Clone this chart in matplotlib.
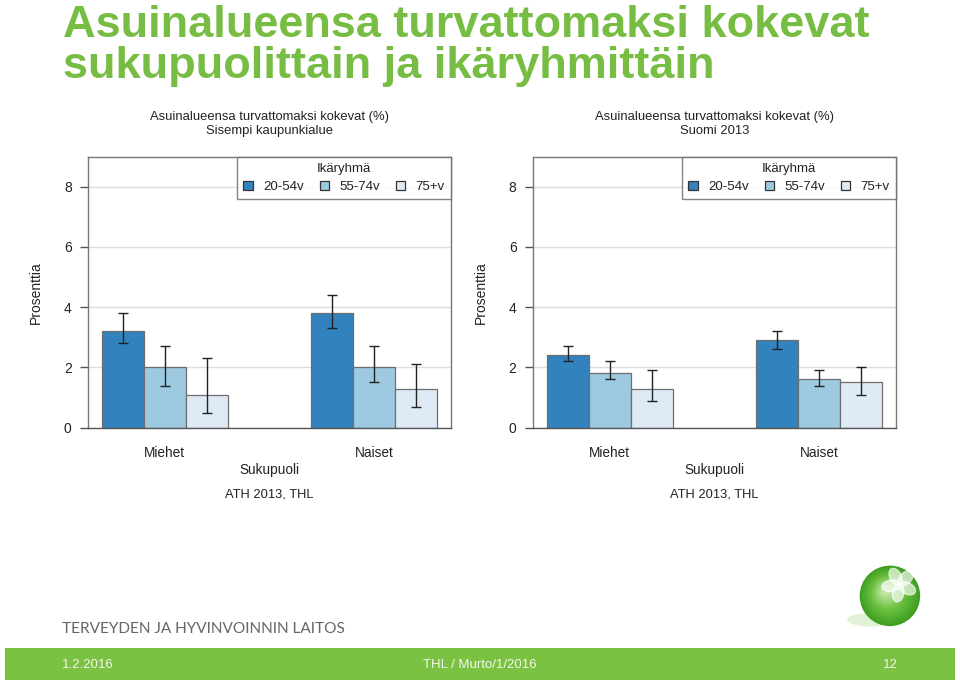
import numpy as np
import matplotlib.pyplot as plt
from matplotlib.patches import Rectangle, Ellipse, Circle
from matplotlib.colors import LinearSegmentedColormap

plt.rcParams['font.family'] = ['Liberation Sans', 'DejaVu Sans']

# data
genders = ['Miehet', 'Naiset']
age_groups = ['20-54v', '55-74v', '75+v']
colors = ['#3182bd', '#9ecae1', '#deebf7']

# Sisempi kaupunkialue
inner_val = [[3.2, 3.8], [2.0, 2.0], [1.1, 1.3]]
inner_lo = [[2.8, 3.3], [1.4, 1.5], [0.5, 0.7]]
inner_hi = [[3.8, 4.4], [2.7, 2.7], [2.3, 2.1]]

# Suomi 2013
fin_val = [[2.4, 2.9], [1.8, 1.6], [1.3, 1.5]]
fin_lo = [[2.2, 2.6], [1.6, 1.4], [0.9, 1.1]]
fin_hi = [[2.7, 3.2], [2.2, 1.9], [1.9, 2.0]]

panels = [
    ('Sisempi kaupunkialue', inner_val, inner_lo, inner_hi, 0.092),
    ('Suomi 2013', fin_val, fin_lo, fin_hi, 0.5555),
]

fig = plt.figure(figsize=(9.6, 6.81), dpi=100)

green = '#78bd43'
fig.text(0.066, 0.993, 'Asuinalueensa turvattomaksi kokevat\nsukupuolittain ja ikäryhmittäin',
         ha='left', va='top', fontsize=32.5, fontweight='bold', color=green,
         linespacing=1.0)

edge_gray = '#6e6e6e'
for subtitle, vals, lo, hi, x0 in panels:
    ax = fig.add_axes([x0, 0.372, 0.3775, 0.398])
    x = np.arange(1, len(genders) + 1)
    w = 0.2
    handles = []
    for i, grp in enumerate(age_groups):
        v = np.array(vals[i])
        err = np.array([v - np.array(lo[i]), np.array(hi[i]) - v])
        b = ax.bar(x + (i - 1) * w, v, w, color=colors[i], edgecolor=edge_gray,
                   linewidth=0.9, zorder=2, label=grp)
        ax.errorbar(x + (i - 1) * w, v, yerr=err, fmt='none', ecolor='#222222',
                    elinewidth=1.0, capsize=3.5, capthick=1.0, zorder=3)
        handles.append(b)
    ax.set_xlim(0.636, 2.364)
    ax.set_ylim(0, 9)
    ax.set_yticks([0, 2, 4, 6, 8])
    ax.yaxis.grid(True, color='#dddddd', linewidth=1.0, zorder=0)
    ax.set_axisbelow(True)
    ax.set_xticks([])
    ax.tick_params(axis='y', length=6, width=1, color='#555555',
                   labelsize=10, labelcolor='#222222', pad=6)
    for s in ax.spines.values():
        s.set_color('#777777')
        s.set_linewidth(1.0)
    ax.spines['bottom'].set_color('#555555')
    ax.set_ylabel('Prosenttia', fontsize=10, color='#222222', labelpad=15)
    for xi, g in zip(x, genders):
        ax.text(xi, -0.6, g, ha='center', va='top', fontsize=9.8, color='#222222')
    ax.text(0.5, -0.13, 'Sukupuoli', transform=ax.transAxes, ha='center',
            va='top', fontsize=9.8, color='#222222')
    ax.text(0.5, -0.225, 'ATH 2013, THL', transform=ax.transAxes, ha='center',
            va='top', fontsize=9.3, color='#222222')
    ax.text(0.5, 1.12, 'Asuinalueensa turvattomaksi kokevat (%)\n' + subtitle,
            transform=ax.transAxes, ha='center', va='center', fontsize=9.4,
            color='#222222', linespacing=1.2)
    leg = ax.legend(handles=handles, title='Ikäryhmä', ncol=3, loc='upper right',
                    bbox_to_anchor=(1.0, 1.0), frameon=True, fancybox=False,
                    fontsize=9.5, title_fontsize=9.5, handlelength=0.7, handleheight=0.7,
                    handletextpad=0.8, columnspacing=1.2, borderpad=0.45,
                    borderaxespad=0)
    leg.get_frame().set_edgecolor('#666666')
    leg.get_frame().set_linewidth(1.0)
    for p in leg.get_patches():
        p.set_edgecolor('#333333')
    for t in leg.get_texts():
        t.set_color('#222222')
    leg.get_title().set_color('#222222')

# footer
fig.text(0.065, 0.077, 'TERVEYDEN JA HYVINVOINNIN LAITOS', ha='left', va='center',
         fontsize=11.1, color='#666666', family=['Lato', 'DejaVu Sans'])
fig.patches.append(Rectangle((0.005, 0.0015), 0.990, 0.047, transform=fig.transFigure,
                             facecolor='#7bc142', edgecolor='none', zorder=0))
fig.text(0.065, 0.024, '1.2.2016', ha='left', va='center', fontsize=9.5, color='#f2f8ec')
fig.text(0.5, 0.024, 'THL / Murto/1/2016', ha='center', va='center', fontsize=9.5,
         color='#f2f8ec')
fig.text(0.927, 0.024, '12', ha='center', va='center', fontsize=9.5, color='#f2f8ec')

# logo
lax = fig.add_axes([0.855, 0.055, 0.14, 0.14])
lax.set_xlim(0, 1)
lax.set_ylim(0, 1)
lax.set_aspect('equal')
lax.axis('off')
lax.add_patch(Ellipse((0.33, 0.25), 0.5, 0.13, color='#e2f2d6', zorder=0))
sphere = LinearSegmentedColormap.from_list('sphere', ['#3f9f22', '#6cc040', '#bfe6a3'])
for r, c in zip(np.linspace(0.31, 0.04, 16), sphere(np.linspace(0, 1, 16))):
    lax.add_patch(Circle((0.52 - (0.31 - r) * 0.15, 0.5 + (0.31 - r) * 0.2), r,
                         color=c, zorder=1))
for ang in [45, 117, 189, 261, 333]:
    a = np.deg2rad(ang)
    lax.add_patch(Ellipse((0.62 + 0.09 * np.cos(a), 0.62 + 0.09 * np.sin(a)), 0.12, 0.19,
                          angle=ang - 90, color='white', alpha=0.65, zorder=2))

fig.savefig('out.png', dpi=100)
